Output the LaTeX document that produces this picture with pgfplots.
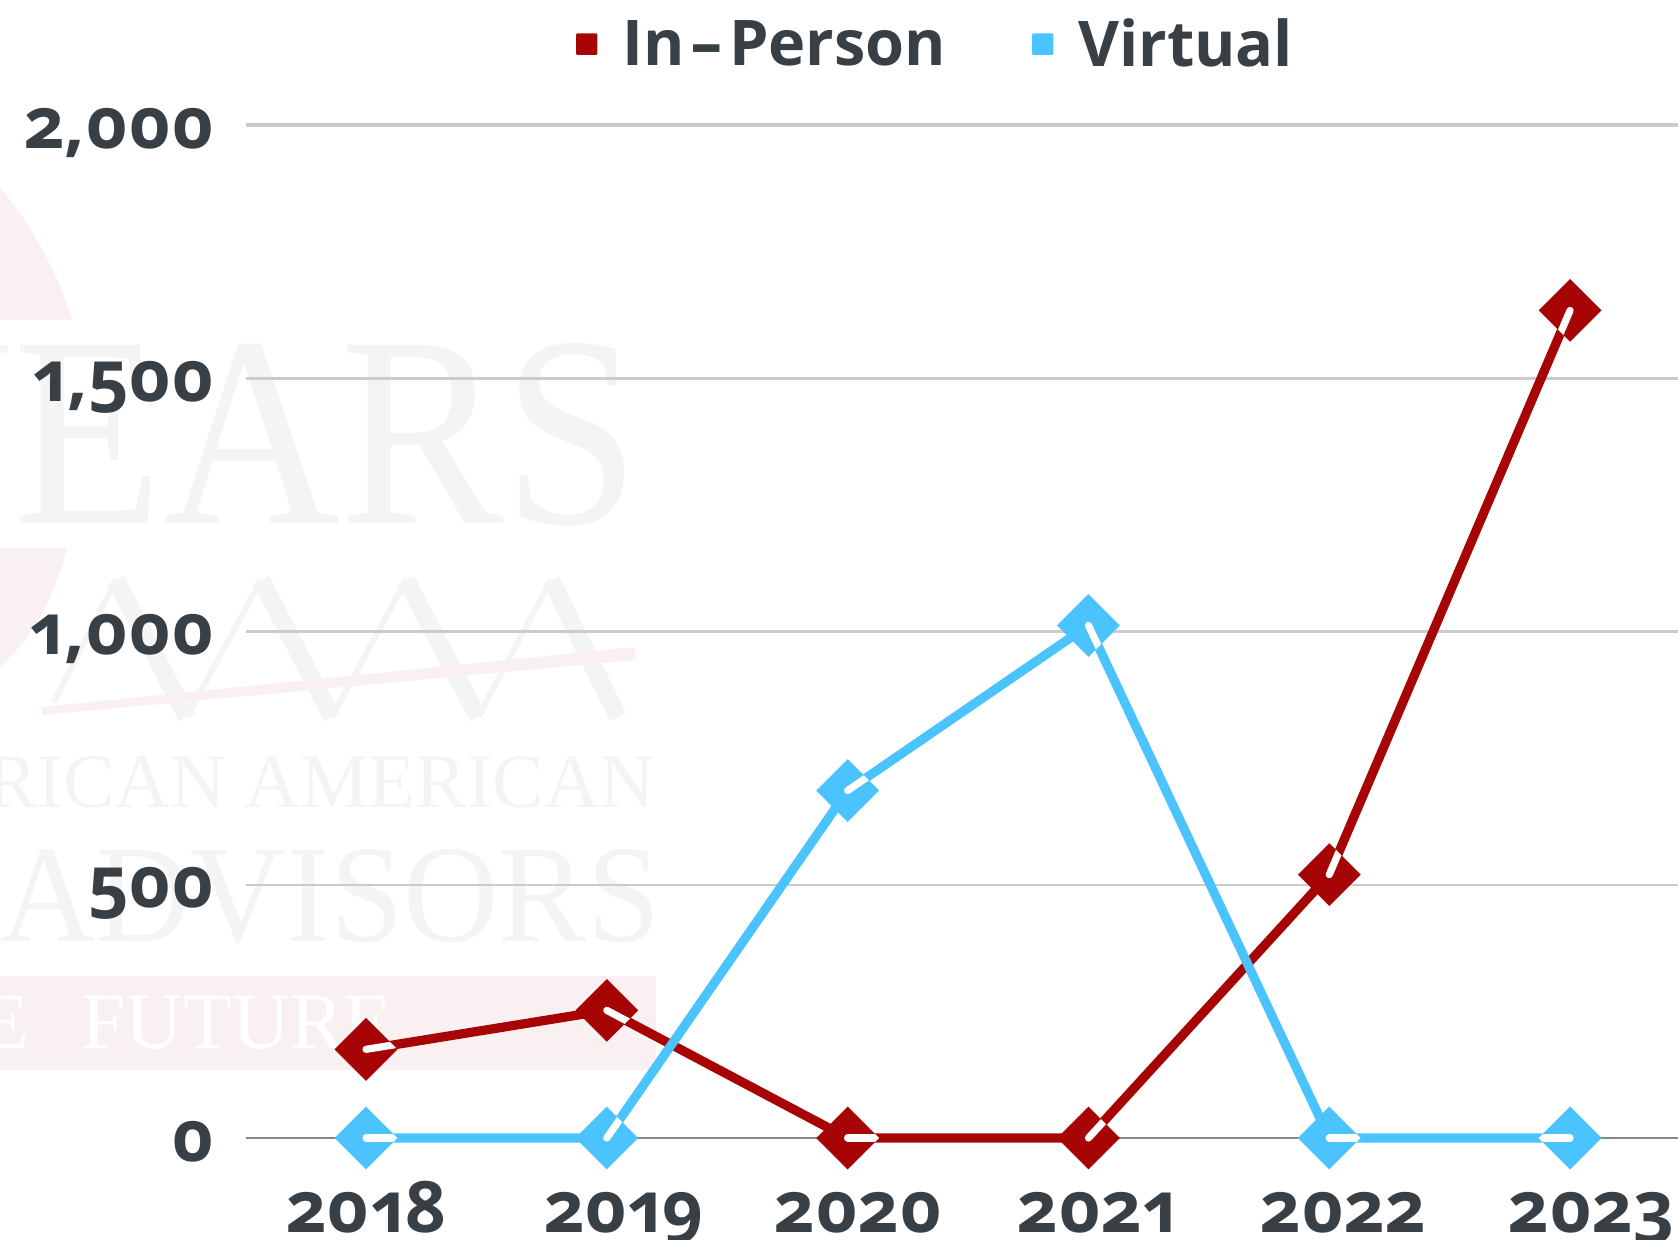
\documentclass[border=0pt]{standalone}
\usepackage{fontspec}
\usepackage{graphicx}
\usepackage{pgfplots}
\usepackage{pgfplotstable}
\pgfplotsset{compat=1.18}
\setmainfont{Open Sans}[Numbers=OldStyle]
\newfontfamily\wmfont{Liberation Serif}

\definecolor{inperson}{HTML}{A70505}
\definecolor{virtual}{HTML}{4BC3FF}
\definecolor{labeltext}{HTML}{394045}
\definecolor{gridc}{HTML}{CBCBCB}
\definecolor{wmgray}{HTML}{F4F4F4}
\definecolor{wmred}{HTML}{F9F1F1}

% ang = screen direction of the white stroke inside each marker
\pgfplotstableread{
year value ang
2018 175 9.2
2019 252 -27.9
2020 0 0
2021 0 47.5
2022 520 66.9
2023 1634 246.9
}\inpersondata
\pgfplotstableread{
year value ang
2018 0 0
2019 0 55.2
2020 686 34.4
2021 1012 -64.8
2022 0 0
2023 0 180
}\virtualdata

\pgfdeclareplotmark{slitdiamond}{%
  \pgfpathmoveto{\pgfpoint{15.7pt}{0pt}}%
  \pgfpathlineto{\pgfpoint{0pt}{15.7pt}}%
  \pgfpathlineto{\pgfpoint{-15.7pt}{0pt}}%
  \pgfpathlineto{\pgfpoint{0pt}{-15.7pt}}%
  \pgfpathclose
  \pgfusepathqfill
  \begin{pgfscope}%
    \pgfpathmoveto{\pgfpoint{15.7pt}{0pt}}%
    \pgfpathlineto{\pgfpoint{0pt}{15.7pt}}%
    \pgfpathlineto{\pgfpoint{-15.7pt}{0pt}}%
    \pgfpathlineto{\pgfpoint{0pt}{-15.7pt}}%
    \pgfpathclose
    \pgfusepathqclip
    \pgftransformrotate{\ang}%
    \pgfsetstrokecolor{white}%
    \pgfsetroundcap
    \pgfsetlinewidth{3.6pt}%
    \pgfpathmoveto{\pgfpoint{0pt}{0pt}}%
    \pgfpathlineto{\pgfpoint{30pt}{0pt}}%
    \pgfusepathqstroke
  \end{pgfscope}%
}

\pgfplotsset{
  series/.style={
    color=#1, line width=4.6pt, line join=round,
    mark=slitdiamond, mark options={fill=#1, draw=none, solid},
    scatter,
    scatter/@pre marker code/.code={\scope},
    scatter/@post marker code/.code={\endscope},
    visualization depends on={\thisrow{ang} \as \ang},
    legend image code/.code={
      \fill[#1, draw=none, rounded corners=0.6pt] (0pt,-5.4pt) rectangle (10.6pt,5.4pt);
    },
  },
}

\begin{document}
\begin{tikzpicture}
\path[use as bounding box, clip] (0pt,0pt) rectangle (839pt,619.5pt);

% faint watermark behind the chart
\begin{scope}[x=0.5pt,y=0.5pt]
\fill[wmred] (0,1051) .. controls (35,1010) and (58,965) .. (72,919) -- (0,919) -- cycle;
\fill[wmred] (0,691) -- (67,691) .. controls (55,640) and (30,600) .. (0,572) -- cycle;
\fill[wmred] (0,169) rectangle (656,263);
\node[anchor=base east, inner sep=0pt, text=wmgray, font=\wmfont\fontsize{136pt}{136pt}\selectfont, xscale=0.9] at (640,715) {YEARS};
\draw[wmgray, line width=3pt] (54,537) -- (116,659) (187,522) -- (261,659) (332,522) -- (406,659) (478,522) -- (551,659);
\draw[wmgray, line width=9pt] (116,659) -- (187,522) (261,659) -- (332,522) (406,659) -- (478,522) (551,659) -- (618,522);
\fill[wmred] (42,524) -- (42,532) -- (635,592) -- (635,579) -- cycle;
\node[anchor=base east, inner sep=0pt, text=wmgray, font=\wmfont\fontsize{38.5pt}{38.5pt}\selectfont] at (656,431) {AMERICAN AMERICAN};
\node[anchor=base east, inner sep=0pt, text=wmgray, font=\wmfont\fontsize{69.5pt}{69.5pt}\selectfont, xscale=0.95] at (661,298) {ADVISORS};
\node[anchor=base east, inner sep=0pt, text=white, font=\wmfont\fontsize{40pt}{40pt}\selectfont] at (393,191) {THE\hspace{26pt}FUTURE};
\end{scope}

\begin{axis}[
  at={(122.8pt,50.5pt)}, anchor=south west,
  scale only axis, width=716.2pt, height=506.5pt,
  xmin=2017.5, xmax=2023.448,
  ymin=0, ymax=2000,
  clip=false,
  axis x line*=bottom, axis y line*=left,
  y axis line style={draw=none},
  x axis line style={draw=gray!95, line width=1pt, -},
  major tick length=0pt,
  tick style={draw=none},
  ytick={0,500,1000,1500},
  extra y ticks={2000},
  extra y tick style={major grid style={gridc, line width=2.2pt}},
  ymajorgrids,
  major grid style={gridc, line width=1.25pt},
  xtick=data,
  xticklabels={2018,\hspace*{17pt}2019,\hspace*{11pt}2020,\hspace*{9pt}2021,\hspace*{14pt}2022,\hspace*{21pt}2023},
  tick label style={font=\bfseries\fontsize{35.5pt}{35.5pt}\selectfont, text=labeltext, inner sep=0pt},
  xticklabel style={anchor=base, yshift=-47pt},
  yticklabel style={anchor=base east, xshift=-15pt, yshift=-11.5pt},
  /pgf/number format/assume math mode=true,
  /pgf/number format/1000 sep={,},
  legend columns=2,
  legend style={
    at={(0.2305,1.0)}, anchor=south west, yshift=25.5pt,
    draw=none, fill=none, inner sep=0pt,
    font=\fontseries{sb}\fontsize{31.5pt}{31.5pt}\selectfont,
    text=labeltext,
    /tikz/every odd column/.append style={column sep=10.5pt},
    /tikz/every even column/.append style={column sep=41pt},
  },
]
\addplot[series=inperson] table[x=year,y=value] {\inpersondata};
\addlegendentry{In\kern3pt\scalebox{1.6}[1]{-}\kern3pt Person}
\addplot[series=virtual] table[x=year,y=value] {\virtualdata};
\addlegendentry{Virtual}
\end{axis}
\end{tikzpicture}
\end{document}
